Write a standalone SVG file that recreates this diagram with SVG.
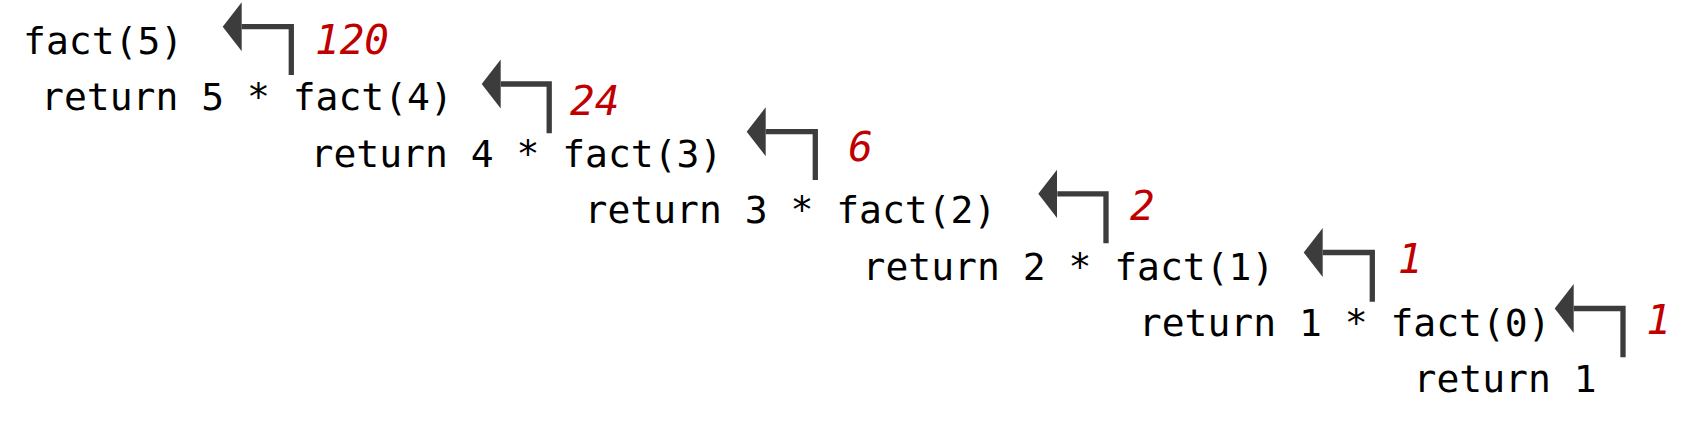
<svg xmlns="http://www.w3.org/2000/svg" width="1687" height="424" viewBox="0 0 1687 424">
<style>
.code{font-family:"DejaVu Sans Mono","Liberation Mono",monospace;font-size:38px;fill:#000}
.val{font-family:"DejaVu Sans Mono","Liberation Mono",monospace;font-style:italic;font-size:41px;fill:#c00000}
.arr{fill:none;stroke:#3c3c3c;stroke-width:5.3;stroke-linejoin:miter}
</style>
<defs>
<marker id="head" markerUnits="userSpaceOnUse" markerWidth="20" markerHeight="50" viewBox="0 0 20 50" refX="0" refY="24.5" orient="auto">
<path d="M0,0 L19,24.5 L0,49 Z" fill="#3c3c3c"/>
</marker>
</defs>
<rect width="1687" height="424" fill="#fff"/>
<g id="n1"><text class="code" x="23" y="54">fact(5)</text></g>
<g id="n2"><text class="code" x="41" y="110.4">return 5 * fact(4)</text></g>
<g id="n3"><text class="code" x="310.5" y="166.8">return 4 * fact(3)</text></g>
<g id="n4"><text class="code" x="584.5" y="223.2">return 3 * fact(2)</text></g>
<g id="n5"><text class="code" x="862.5" y="279.6">return 2 * fact(1)</text></g>
<g id="n6"><text class="code" x="1138.8" y="336">return 1 * fact(0)</text></g>
<g id="n7"><text class="code" x="1413.5" y="392.4">return 1</text></g>
<g id="connectors">
<path class="arr" marker-end="url(#head)" d="M291.3,75 V26.7 H241.7"/>
<path class="arr" marker-end="url(#head)" d="M549.2,133.3 V84 H500.7"/>
<path class="arr" marker-end="url(#head)" d="M815.3,180 V131.7 H765.7"/>
<path class="arr" marker-end="url(#head)" d="M1106,243.3 V193.8 H1057.3"/>
<path class="arr" marker-end="url(#head)" d="M1372.3,301.7 V252.5 H1322.7"/>
<path class="arr" marker-end="url(#head)" d="M1623,357.3 V308.5 H1573.7"/>
<text class="val" x="315" y="54">120</text>
<text class="val" x="570" y="115">24</text>
<text class="val" x="848.3" y="160.7">6</text>
<text class="val" x="1130" y="220">2</text>
<text class="val" x="1397.7" y="273.3">1</text>
<text class="val" x="1646.3" y="334">1</text>
</g>
</svg>
